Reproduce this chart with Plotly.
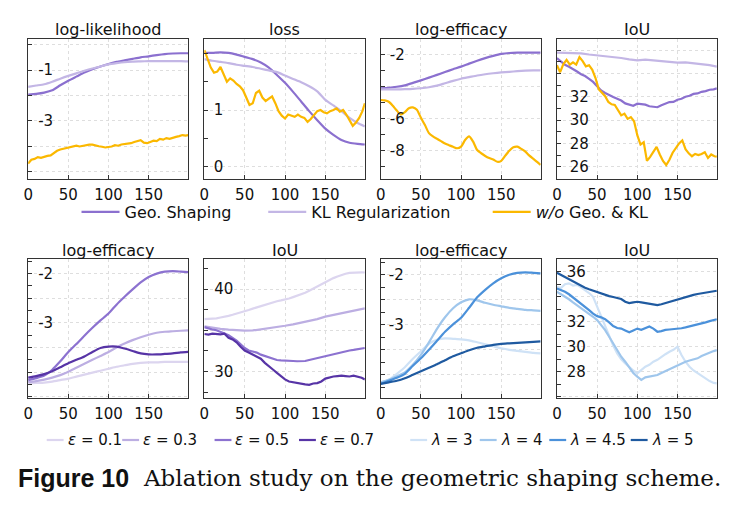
import plotly.graph_objects as go

W, H = 738, 508

# ---------------- data ----------------
X10 = [0, 10, 20, 30, 40, 50, 60, 70, 80, 90, 100, 110, 120, 130, 140, 150, 160, 170, 180, 190, 199]
X5 = [0, 5, 10, 15, 20, 25, 30, 35, 40, 45, 50, 55, 60, 65, 70, 75, 80, 85, 90, 95, 100,
      105, 110, 115, 120, 125, 130, 135, 140, 145, 150, 155, 160, 165, 170, 175, 180, 185, 190, 195, 199]
X4 = [0, 4, 8, 12, 16, 20, 24, 28, 32, 36, 40, 44, 48, 52, 56, 60, 64, 68, 72, 76, 80, 84, 88, 92, 96,
      100, 104, 108, 112, 116, 120, 124, 128, 132, 136, 140, 144, 148, 152, 156, 160, 164, 168, 172,
      176, 180, 184, 188, 192, 196, 199]

# top row: log-likelihood
ll_geo = [-1.97, -1.94, -1.89, -1.80, -1.60, -1.42, -1.26, -1.10, -0.97, -0.86, -0.76, -0.68, -0.62,
          -0.56, -0.50, -0.46, -0.41, -0.37, -0.35, -0.34, -0.34]
ll_kl = [-1.66, -1.61, -1.56, -1.46, -1.34, -1.23, -1.13, -1.03, -0.94, -0.86, -0.78, -0.73, -0.69,
         -0.67, -0.66, -0.65, -0.65, -0.65, -0.65, -0.65, -0.66]
ll_wo = [-4.68, -4.53, -4.50, -4.43, -4.46, -4.41, -4.38, -4.36, -4.26, -4.18, -4.13, -4.10, -4.05,
         -4.03, -4.00, -3.98, -4.01, -3.98, -3.96, -3.94, -3.94, -3.98, -4.00, -4.02, -4.05, -4.03,
         -4.01, -3.96, -3.98, -3.93, -3.91, -3.92, -3.88, -3.83, -3.80, -3.76, -3.86, -3.88, -3.83,
         -3.78, -3.80, -3.71, -3.74, -3.68, -3.71, -3.66, -3.63, -3.60, -3.56, -3.58, -3.56]

# top row: loss
loss_geo = [2.01, 2.01, 2.02, 2.01, 1.98, 1.94, 1.90, 1.84, 1.75, 1.62, 1.48, 1.32, 1.15, 0.98, 0.82,
            0.67, 0.56, 0.47, 0.42, 0.40, 0.39]
loss_kl = [1.90, 1.87, 1.85, 1.83, 1.80, 1.78, 1.76, 1.73, 1.70, 1.67, 1.61, 1.55, 1.49, 1.42, 1.33,
           1.18, 1.08, 0.98, 0.86, 0.77, 0.71]
loss_wo = [2.06, 1.90, 1.75, 1.66, 1.68, 1.76, 1.62, 1.50, 1.56, 1.52, 1.46, 1.42, 1.35, 1.22, 1.09,
           1.12, 1.30, 1.34, 1.22, 1.16, 1.20, 1.24, 1.12, 0.98, 0.90, 0.85, 0.92, 0.90, 0.88, 0.92,
           0.88, 0.86, 0.79, 0.84, 0.92, 0.98, 1.00, 0.96, 0.94, 0.98, 1.00, 1.03, 0.97, 1.00, 0.92,
           0.82, 0.72, 0.78, 0.86, 0.98, 1.12]

# top row: log-efficacy
eff_geo = [-4.11, -4.08, -4.02, -3.93, -3.78, -3.62, -3.45, -3.28, -3.10, -2.93, -2.77, -2.58, -2.40,
           -2.24, -2.10, -1.98, -1.92, -1.90, -1.90, -1.90, -1.90]
eff_kl = [-4.18, -4.18, -4.18, -4.17, -4.15, -4.11, -4.05, -3.95, -3.80, -3.65, -3.52, -3.42, -3.32,
          -3.24, -3.18, -3.13, -3.09, -3.05, -3.02, -3.00, -3.00]
eff_wo = [-4.84, -4.86, -4.95, -5.20, -5.50, -5.75, -5.60, -5.35, -5.30, -5.45, -5.95, -6.40, -6.90,
          -7.10, -7.25, -7.40, -7.55, -7.65, -7.75, -7.84, -7.74, -7.33, -7.10, -7.43, -7.95, -8.15,
          -8.32, -8.45, -8.54, -8.68, -8.62, -8.30, -8.00, -7.78, -7.74, -7.88, -8.05, -8.30, -8.50,
          -8.70, -8.88]

# top row: IoU
iou_geo = [35.30, 35.02, 34.73, 34.57, 34.33, 34.16, 33.93, 33.77, 33.53, 33.27, 32.90, 32.53, 32.32,
           32.13, 31.97, 31.83, 31.67, 31.43, 31.32, 31.23, 31.40, 31.33, 31.32, 31.18, 31.16, 31.10,
           31.27, 31.40, 31.54, 31.56, 31.74, 31.83, 32.00, 32.08, 32.24, 32.28, 32.42, 32.48, 32.60,
           32.63, 32.72]
iou_kl = [35.78, 35.76, 35.74, 35.72, 35.62, 35.55, 35.50, 35.42, 35.32, 35.20, 35.12, 35.18, 35.10,
          35.05, 34.98, 34.92, 34.95, 34.88, 34.82, 34.70, 34.58]
iou_wo = [34.71, 34.10, 34.80, 35.15, 34.75, 34.95, 34.75, 35.40, 35.05, 34.60, 34.70, 34.30, 33.60,
          32.65, 32.35, 32.05, 31.55, 31.35, 31.30, 30.85, 30.40, 30.55, 30.10, 30.25, 29.90, 28.70,
          27.90, 28.10, 26.50, 26.85, 27.25, 27.70, 27.05, 26.50, 26.15, 26.60, 27.20, 27.60, 28.00,
          28.25, 27.50, 27.15, 26.90, 27.10, 27.00, 27.10, 27.25, 26.75, 27.05, 26.90, 26.86]

# bottom row: epsilon ablation
eps_labels = ["0.1", "0.3", "0.5", "0.7"]
eps_eff = [
    [-4.23, -4.22, -4.21, -4.19, -4.16, -4.13, -4.09, -4.05, -4.01, -3.97, -3.93, -3.89, -3.86, -3.83,
     -3.81, -3.80, -3.80, -3.79, -3.79, -3.79, -3.79],
    [-4.20, -4.18, -4.15, -4.11, -4.06, -3.99, -3.91, -3.83, -3.75, -3.67, -3.59, -3.50, -3.42, -3.35,
     -3.29, -3.24, -3.20, -3.18, -3.17, -3.16, -3.15],
    [-4.16, -4.12, -4.07, -3.95, -3.78, -3.59, -3.43, -3.26, -3.10, -2.95, -2.81, -2.63, -2.47, -2.32,
     -2.18, -2.07, -2.00, -1.96, -1.95, -1.96, -1.97],
    [-4.11, -4.08, -4.04, -3.98, -3.90, -3.82, -3.75, -3.68, -3.59, -3.51, -3.48, -3.48, -3.52, -3.57,
     -3.62, -3.64, -3.64, -3.63, -3.62, -3.60, -3.59],
]
eps_iou_01 = [36.36, 36.38, 36.40, 36.45, 36.55, 36.62, 36.75, 36.88, 37.00, 37.15, 37.30, 37.45, 37.62,
              37.78, 37.95, 38.10, 38.25, 38.38, 38.52, 38.62, 38.70, 38.85, 39.02, 39.18, 39.35, 39.55,
              39.78, 40.05, 40.32, 40.60, 40.88, 41.10, 41.32, 41.52, 41.72, 41.85, 41.95, 42.00, 42.02,
              42.02, 42.00]
eps_iou_03 = [35.47, 35.30, 35.18, 35.08, 35.00, 34.95, 34.98, 35.10, 35.25, 35.40, 35.55, 35.72, 35.92,
              36.10, 36.35, 36.65, 36.85, 37.05, 37.25, 37.45, 37.65]
eps_iou_05 = [35.38, 35.20, 35.10, 35.00, 34.85, 34.62, 34.40, 34.10, 33.75, 33.30, 32.85, 32.55, 32.40,
              32.30, 32.05, 31.90, 31.70, 31.55, 31.40, 31.35, 31.30, 31.32, 31.28, 31.25, 31.22, 31.28,
              31.40, 31.52, 31.62, 31.72, 31.82, 31.95, 32.10, 32.22, 32.35, 32.45, 32.55, 32.62, 32.72,
              32.80, 32.85]
eps_iou_07 = [34.55, 34.48, 34.60, 34.55, 34.50, 34.58, 34.10, 33.90, 33.55, 33.00, 32.55, 32.30, 32.05,
              31.80, 31.55, 31.05, 30.70, 30.25, 29.85, 29.40, 29.05, 28.80, 28.70, 28.65, 28.55, 28.45,
              28.40, 28.55, 28.60, 28.80, 29.15, 29.30, 29.40, 29.45, 29.50, 29.45, 29.40, 29.50, 29.40,
              29.25, 29.05]

# bottom row: lambda ablation
lam_labels = ["3", "4", "4.5", "5"]
lam_eff = [
    [-4.17, -4.10, -3.98, -3.85, -3.68, -3.53, -3.38, -3.30, -3.27, -3.28, -3.29, -3.31, -3.35, -3.39,
     -3.43, -3.47, -3.50, -3.52, -3.54, -3.56, -3.57],
    [-4.15, -4.10, -4.03, -3.95, -3.80, -3.60, -3.35, -3.08, -2.85, -2.67, -2.55, -2.49, -2.51, -2.56,
     -2.60, -2.63, -2.66, -2.68, -2.70, -2.71, -2.72],
    [-4.18, -4.12, -4.06, -3.98, -3.82, -3.67, -3.50, -3.32, -3.14, -2.99, -2.86, -2.66, -2.45, -2.30,
     -2.17, -2.07, -2.00, -1.96, -1.95, -1.96, -1.97],
    [-4.18, -4.15, -4.12, -4.07, -4.00, -3.93, -3.86, -3.79, -3.71, -3.63, -3.57, -3.51, -3.46, -3.43,
     -3.40, -3.38, -3.37, -3.36, -3.35, -3.34, -3.33],
]
lam_iou = [
    [34.80, 34.70, 35.00, 35.07, 34.90, 34.95, 34.75, 34.53, 34.30, 34.00, 33.20, 32.50, 31.70, 30.80,
     30.10, 29.47, 29.00, 28.67, 28.35, 28.10, 27.87, 28.15, 28.40, 28.55, 28.80, 28.95, 29.20, 29.40,
     29.60, 29.75, 30.00, 29.33, 28.80, 28.40, 28.10, 27.87, 27.65, 27.47, 27.25, 27.10, 27.07],
    [34.40, 34.20, 34.05, 33.80, 33.55, 33.33, 33.10, 32.85, 32.65, 32.40, 32.13, 31.75, 31.33, 30.80,
     30.25, 29.73, 29.20, 28.80, 28.30, 27.90, 27.60, 27.35, 27.55, 27.60, 27.65, 27.73, 27.90, 28.05,
     28.25, 28.40, 28.53, 28.65, 28.80, 28.90, 29.00, 29.07, 29.25, 29.40, 29.55, 29.65, 29.73],
    [34.67, 34.55, 34.40, 34.20, 33.95, 33.73, 33.50, 33.20, 32.93, 32.65, 32.45, 32.35, 32.20, 31.95,
     31.65, 31.50, 31.45, 31.30, 31.15, 31.30, 31.45, 31.35, 31.50, 31.62, 31.45, 31.20, 31.25, 31.35,
     31.38, 31.40, 31.42, 31.48, 31.55, 31.62, 31.70, 31.75, 31.85, 31.95, 32.05, 32.12, 32.20],
    [35.92, 35.75, 35.55, 35.40, 35.22, 35.07, 34.90, 34.72, 34.60, 34.48, 34.40, 34.30, 34.15, 34.05,
     33.98, 33.90, 33.82, 33.60, 33.50, 33.55, 33.60, 33.55, 33.48, 33.42, 33.38, 33.33, 33.40, 33.50,
     33.60, 33.70, 33.80, 33.88, 33.98, 34.05, 34.15, 34.22, 34.28, 34.35, 34.42, 34.46, 34.48],
]

method_names = ["Geo. Shaping", "KL Regularization", "<i>w/o</i> Geo. &amp; KL"]
titles_top = ["log-likelihood", "loss", "log-efficacy", "IoU"]
titles_bottom = ["log-efficacy", "IoU", "log-efficacy", "IoU"]

# ---------------- style ----------------
C_GEO, C_KL, C_WO = "#8b70cf", "#c3b6e5", "#fbb800"
C_EPS = ["#dcd5ef", "#bcaee2", "#8c72d0", "#5734a6"]
C_LAM = ["#cfe2f6", "#9fc6ec", "#4b91da", "#1f5aa0"]
LW = 2.2
FONT = "DejaVu Sans"

COLS = [(23.3, 184.3), (200.7, 362.3), (378.3, 539.3), (555.7, 716.7)]
ROWS = [(39.3, 179.0), (259.3, 398.3)]


def px(x):
    return x / W


def py(y):
    return 1 - y / H


fig = go.Figure()


def add(idx, x, y, color, name, legend=None, shape="linear"):
    fig.add_trace(go.Scatter(
        x=x, y=y, mode="lines", name=name,
        line=dict(color=color, width=LW, shape=shape, smoothing=0.6),
        xaxis="x" if idx == 1 else f"x{idx}", yaxis="y" if idx == 1 else f"y{idx}",
        showlegend=legend is not None, legend=legend or "legend",
        hoverinfo="skip"))


# top row
add(1, X10, ll_geo, C_GEO, method_names[0], "legend", "spline")
add(1, X10, ll_kl, C_KL, method_names[1], "legend2", "spline")
add(1, X4, ll_wo, C_WO, method_names[2], "legend3")
add(2, X10, loss_geo, C_GEO, method_names[0], shape="spline")
add(2, X10, loss_kl, C_KL, method_names[1], shape="spline")
add(2, X4, loss_wo, C_WO, method_names[2])
add(3, X10, eff_geo, C_GEO, method_names[0], shape="spline")
add(3, X10, eff_kl, C_KL, method_names[1], shape="spline")
add(3, X5, eff_wo, C_WO, method_names[2], shape="spline")
add(4, X5, iou_geo, C_GEO, method_names[0])
add(4, X10, iou_kl, C_KL, method_names[1])
add(4, X4, iou_wo, C_WO, method_names[2])

# bottom row
for i in range(4):
    add(5, X10, eps_eff[i], C_EPS[i], f"ε = {eps_labels[i]}", shape="spline")
for i, ser in enumerate([eps_iou_01, eps_iou_03, eps_iou_05, eps_iou_07]):
    add(6, X10 if len(ser) == 21 else X5, ser, C_EPS[i], f"ε = {eps_labels[i]}")
for i in range(4):
    add(7, X10, lam_eff[i], C_LAM[i], f"λ = {lam_labels[i]}", shape="spline")
for i in range(4):
    add(8, X5, lam_iou[i], C_LAM[i], f"λ = {lam_labels[i]}")

# ---------------- axes ----------------
# range, gridded ticks, their labels, minor ticks, label standoff (labels sit inside the frame)
YSPEC = {
    1: ([-5.29, 0.21], [0, -1, -2, -3, -4, -5], ["", "-1", "", "-3", "", ""], [], -29),
    2: ([-0.22, 2.25], [0, 1, 2], ["0", "1", ""], [0.5, 1.5], -23),
    3: ([-9.75, -1.07], [-2, -4, -6, -8], ["-2", "", "-6", "-8"], [-3, -5, -7, -9], -28),
    4: ([24.95, 36.92], [26, 28, 30, 32, 34, 36], ["26", "28", "30", "32", "", ""],
        [25, 27, 29, 31, 33, 35], -36),
    5: ([-4.53, -1.71], [-2, -2.5, -3, -3.5, -4, -4.5], ["-2", "", "-3", "", "", ""],
        [-1.75, -2.25, -2.75, -3.25, -3.75, -4.25], -29),
    6: ([26.76, 43.6], [30, 35, 40], ["30", "", "40"], [27.5, 32.5, 37.5, 42.5], -33),
    7: ([-4.47, -1.69], [-2, -2.5, -3, -3.5, -4, -4.5], ["-2", "", "-3", "", "", ""],
        [-1.75, -2.25, -2.75, -3.25, -3.75, -4.25], -27),
    8: ([25.87, 37.0], [26, 28, 30, 32, 34, 36], ["", "28", "30", "32", "", "36"],
        [27, 29, 31, 33, 35], -33),
}

layout = dict(
    width=W, height=H, margin=dict(l=0, r=0, t=0, b=0),
    paper_bgcolor="white", plot_bgcolor="white",
    font=dict(family=FONT, size=15, color="#111111"),
)
common = dict(showline=True, mirror=True, linecolor="#333333", linewidth=1,
              ticks="inside", ticklen=4, tickwidth=1, tickcolor="#333333",
              showgrid=True, gridcolor="#dedede", griddash="dot", gridwidth=1,
              zeroline=False, tickfont=dict(family=FONT, size=15, color="#111111"))

annotations = []
for idx in range(1, 9):
    r = 0 if idx <= 4 else 1
    c = (idx - 1) % 4
    x0, x1 = COLS[c]
    y0, y1 = ROWS[r]
    xs = "" if idx == 1 else str(idx)
    rng, majors, labels, minors, standoff = YSPEC[idx]
    layout[f"xaxis{xs}"] = dict(
        common, domain=[px(x0), px(x1)], range=[0, 199], anchor=f"y{xs}",
        tickvals=[0, 50, 100, 150], ticktext=["0", "50", "100", "150"], ticklabelstandoff=2)
    layout[f"yaxis{xs}"] = dict(
        common, domain=[py(y1), py(y0)], range=rng, anchor=f"x{xs}",
        tickvals=majors, ticktext=labels, ticklabelposition="outside", ticklabelstandoff=standoff,
        minor=dict(tickvals=minors, ticks="inside", ticklen=4, tickcolor="#333333", showgrid=False))
    title = titles_top[c] if r == 0 else titles_bottom[c]
    annotations.append(dict(text=title, xref="paper", yref="paper", x=px((x0 + x1) / 2),
                            y=py(29 if r == 0 else 250), xanchor="center", yanchor="middle",
                            showarrow=False, font=dict(family=FONT, size=16, color="#111111")))

# top legends (one real legend entry each)
for key, lx in zip(["legend", "legend2", "legend3"], [72, 260, 486]):
    layout[key] = dict(x=px(lx), y=py(212), xanchor="left", yanchor="middle",
                       orientation="h", bgcolor="rgba(0,0,0,0)", borderwidth=0,
                       itemwidth=38, font=dict(family=FONT, size=16, color="#111111"))

# bottom legend (short line keys, drawn as in the reference)
shapes = []
leg_items = [(42, C_EPS[0], "<i>ε</i> = 0.1"), (118, C_EPS[1], "<i>ε</i> = 0.3"),
             (211, C_EPS[2], "<i>ε</i> = 0.5"), (296, C_EPS[3], "<i>ε</i> = 0.7"),
             (408, C_LAM[0], "<i>λ</i> = 3"), (478, C_LAM[1], "<i>λ</i> = 4"),
             (548, C_LAM[2], "<i>λ</i> = 4.5"), (630, C_LAM[3], "<i>λ</i> = 5")]
for lx, col, txt in leg_items:
    shapes.append(dict(type="line", xref="paper", yref="paper", x0=px(lx), x1=px(lx + 17),
                       y0=py(440), y1=py(440), line=dict(color=col, width=LW)))
    annotations.append(dict(text=txt, xref="paper", yref="paper", x=px(lx + 19), y=py(440),
                            xanchor="left", yanchor="middle", showarrow=False,
                            font=dict(family=FONT, size=15, color="#111111")))

# caption
annotations.append(dict(text="<b>Figure 10</b>", xref="paper", yref="paper", x=px(11), y=py(478),
                        xanchor="left", yanchor="middle", showarrow=False,
                        font=dict(family="Liberation Sans", size=25, color="#111111")))
annotations.append(dict(text="Ablation study on the geometric shaping scheme.", xref="paper",
                        yref="paper", x=px(137), y=py(478), xanchor="left", yanchor="middle",
                        showarrow=False, font=dict(family="DejaVu Serif", size=23, color="#111111")))

layout["annotations"] = annotations
layout["shapes"] = shapes
fig.update_layout(**layout)
fig.write_html("out.html")
